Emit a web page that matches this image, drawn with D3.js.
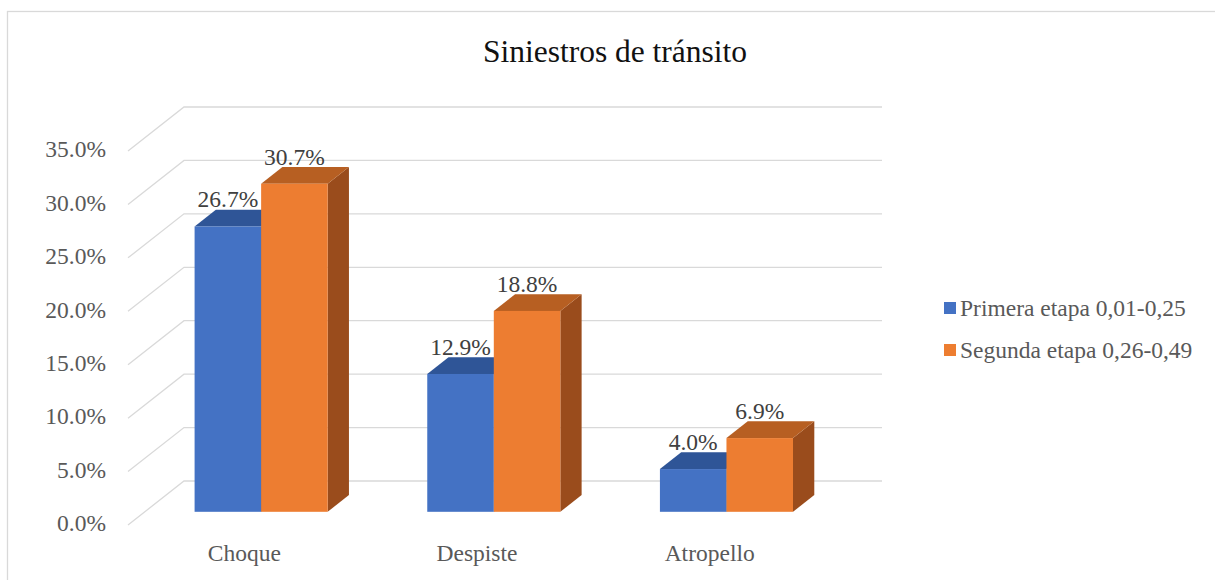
<!DOCTYPE html>
<html>
<head>
<meta charset="utf-8">
<script src="https://cdn.jsdelivr.net/npm/d3@7"></script>
<style>
  body { margin: 0; background: #fff; }
</style>
</head>
<body>
<div id="chart"></div>
<script>
var categories = ["Choque", "Despiste", "Atropello"];
var seriesNames = ["Primera etapa 0,01-0,25", "Segunda etapa 0,26-0,49"];
var primera = [26.7, 12.9, 4.0];
var segunda = [30.7, 18.8, 6.9];
var yTicks = [0, 5, 10, 15, 20, 25, 30, 35];

var W = 1215, H = 580;
var font = "'Liberation Serif', 'Times New Roman', Tinos, 'DejaVu Serif', serif";
var fs = 23.5;
var colors = [
    {front: "#4472C4", top: "#2F5597", side: "#2A4D8A"},
    {front: "#ED7D31", top: "#B75F22", side: "#9A4C1C"}
];
// depth of the 3d box: full depth vector, bar starts/ends as fraction of it
var depthX = 56, depthY = -44, barT0 = 0.30, barT1 = 0.68;

var svg = d3.select('#chart')
    .append('svg')
    .attr('width', W)
    .attr('height', H)
    .style('font-family', font);

svg.append('rect')
    .attr('x', 7.5).attr('y', 11.5)
    .attr('width', W).attr('height', H)
    .attr('fill', 'none')
    .attr('stroke', '#D9D9D9')
    .attr('stroke-width', 1.3);

var x = d3.scaleBand().domain(categories).range([128, 826]);
var y = d3.scaleLinear().domain([0, 35]).range([525, 151]);
var groupW = x.bandwidth() * 0.572;
var xs = d3.scaleBand().domain([0, 1]).range([0, groupW]);

// gridlines: side wall diagonal + back wall
svg.append('g').selectAll('polyline')
    .data(yTicks)
    .enter()
    .append('polyline')
    .attr('points', function (d) {
        var y0 = y(d);
        return [[128, y0], [128 + depthX, y0 + depthY], [826 + depthX, y0 + depthY]].join(' ');
    })
    .attr('fill', 'none')
    .attr('stroke', '#D9D9D9')
    .attr('stroke-width', 1.3);

// y tick labels
svg.append('g').selectAll('text')
    .data(yTicks)
    .enter()
    .append('text')
    .attr('x', 106)
    .attr('y', function (d) { return y(d) - 2; })
    .attr('dy', '0.35em')
    .attr('text-anchor', 'end')
    .attr('font-size', fs)
    .attr('fill', '#595959')
    .text(function (d) { return d.toFixed(1) + '%'; });

// category labels
svg.append('g').selectAll('text')
    .data(categories)
    .enter()
    .append('text')
    .attr('x', function (d) { return x(d) + x.bandwidth() / 2; })
    .attr('y', 561)
    .attr('text-anchor', 'middle')
    .attr('font-size', fs)
    .attr('fill', '#595959')
    .text(function (d) { return d; });

// bars
var bars = [];
categories.forEach(function (c, i) {
    [primera[i], segunda[i]].forEach(function (v, s) {
        bars.push({cat: c, s: s, v: v});
    });
});

var dx0 = depthX * barT0, dy0 = depthY * barT0;
var bdx = depthX * (barT1 - barT0), bdy = depthY * (barT1 - barT0);

var barG = svg.append('g');
bars.forEach(function (b) {
    var xl = x(b.cat) + (x.bandwidth() - groupW) / 2 + xs(b.s) + dx0;
    var xr = xl + xs.bandwidth();
    var yt = y(b.v) + dy0;
    var yb = y(0) + dy0;
    var col = colors[b.s];
    var g = barG.append('g');
    g.append('polygon')
        .attr('points', [[xr, yt], [xr + bdx, yt + bdy], [xr + bdx, yb + bdy], [xr, yb]].join(' '))
        .attr('fill', col.side);
    g.append('polygon')
        .attr('points', [[xl, yt], [xl + bdx, yt + bdy], [xr + bdx, yt + bdy], [xr, yt]].join(' '))
        .attr('fill', col.top);
    g.append('rect')
        .attr('x', xl).attr('y', yt)
        .attr('width', xr - xl).attr('height', yb - yt)
        .attr('fill', col.front);
    b.lx = (xl + xr) / 2;
    b.ly = yt - 19;
});

// data labels
svg.append('g').selectAll('text')
    .data(bars)
    .enter()
    .append('text')
    .attr('x', function (d) { return d.lx; })
    .attr('y', function (d) { return d.ly; })
    .attr('text-anchor', 'middle')
    .attr('font-size', fs)
    .attr('fill', '#404040')
    .text(function (d) { return d.v.toFixed(1) + '%'; });

// title
svg.append('text')
    .attr('x', 615)
    .attr('y', 62)
    .attr('text-anchor', 'middle')
    .attr('font-size', 31.5)
    .attr('fill', '#111')
    .text('Siniestros de tránsito');

// legend
var leg = svg.append('g').selectAll('g')
    .data(seriesNames)
    .enter()
    .append('g')
    .attr('transform', function (d, i) { return 'translate(944,' + (308 + i * 42) + ')'; });
leg.append('rect')
    .attr('x', 0).attr('y', -6)
    .attr('width', 12).attr('height', 12)
    .attr('fill', function (d, i) { return colors[i].front; });
leg.append('text')
    .attr('x', 16)
    .attr('y', 0)
    .attr('dy', '0.35em')
    .attr('font-size', fs)
    .attr('fill', '#595959')
    .text(function (d) { return d; });
</script>
</body>
</html>
